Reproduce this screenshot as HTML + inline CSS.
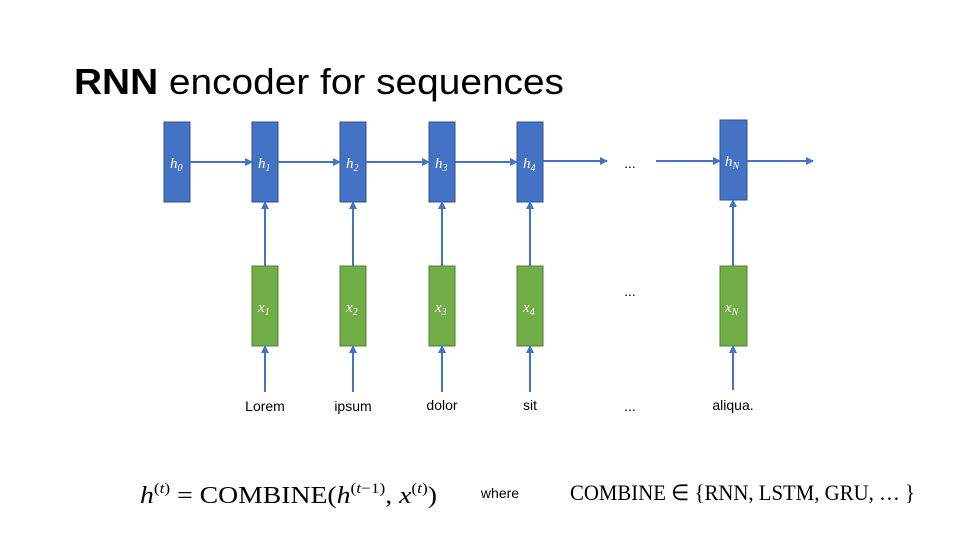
<!DOCTYPE html>
<html><head><meta charset="utf-8"><style>
html,body{margin:0;padding:0;background:#fff;}
svg{display:block}
.t{font-family:"Liberation Serif",serif;font-style:italic;fill:#fff;font-size:15px}
.s{font-size:10px}
.l{font-family:"Liberation Sans",sans-serif;font-size:14px;fill:#000}
</style></head><body>
<svg width="960" height="540" viewBox="0 0 960 540" xmlns="http://www.w3.org/2000/svg">
<defs><marker id="a" markerWidth="8" markerHeight="8" refX="7" refY="4" orient="auto" markerUnits="userSpaceOnUse"><path d="M0,0 L8,4 L0,8 z" fill="#4472c4"/></marker></defs>
<text x="74" y="94" font-family="Liberation Sans,sans-serif" font-size="36" fill="#000" textLength="490" lengthAdjust="spacingAndGlyphs"><tspan font-weight="bold">RNN</tspan> encoder for sequences</text>
<g fill="#4472c4" stroke="#2f528f" stroke-width="1">
<rect x="164" y="122" width="26" height="80"/>
<rect x="252" y="122" width="26" height="80"/>
<rect x="340" y="122" width="26" height="80"/>
<rect x="429" y="122" width="26" height="80"/>
<rect x="517" y="122" width="26" height="80"/>
<rect x="720" y="120" width="27" height="80"/>
</g>
<g fill="#70ad47" stroke="#507e32" stroke-width="1">
<rect x="252" y="266" width="26" height="80"/>
<rect x="340" y="266" width="26" height="80"/>
<rect x="429" y="266" width="26" height="80"/>
<rect x="517" y="266" width="26" height="80"/>
<rect x="720" y="266" width="27" height="80"/>
</g>
<g stroke="#4472c4" stroke-width="2" marker-end="url(#a)">
<line x1="190" y1="162" x2="252" y2="162"/>
<line x1="278" y1="162" x2="340" y2="162"/>
<line x1="366" y1="162" x2="429" y2="162"/>
<line x1="455" y1="162" x2="517" y2="162"/>
<line x1="543" y1="161" x2="607" y2="161"/>
<line x1="656" y1="161" x2="720" y2="161"/>
<line x1="747" y1="161" x2="813" y2="161"/>
<line x1="265" y1="266" x2="265" y2="202"/>
<line x1="353" y1="266" x2="353" y2="202"/>
<line x1="442" y1="266" x2="442" y2="202"/>
<line x1="530" y1="266" x2="530" y2="202"/>
<line x1="733" y1="266" x2="733" y2="200"/>
<line x1="265" y1="392" x2="265" y2="346"/>
<line x1="353" y1="392" x2="353" y2="346"/>
<line x1="442" y1="392" x2="442" y2="346"/>
<line x1="530" y1="392" x2="530" y2="346"/>
<line x1="733" y1="390" x2="733" y2="346"/>
</g>
<text class="t" x="170" y="168">h<tspan class="s" dy="3">0</tspan></text>
<text class="t" x="258" y="168">h<tspan class="s" dy="3">1</tspan></text>
<text class="t" x="346" y="168">h<tspan class="s" dy="3">2</tspan></text>
<text class="t" x="435" y="168">h<tspan class="s" dy="3">3</tspan></text>
<text class="t" x="523" y="168">h<tspan class="s" dy="3">4</tspan></text>
<text class="t" x="725" y="166">h<tspan class="s" dy="3">N</tspan></text>
<text class="t" x="258" y="312">x<tspan class="s" dy="3">1</tspan></text>
<text class="t" x="346" y="312">x<tspan class="s" dy="3">2</tspan></text>
<text class="t" x="435" y="312">x<tspan class="s" dy="3">3</tspan></text>
<text class="t" x="523" y="312">x<tspan class="s" dy="3">4</tspan></text>
<text class="t" x="725" y="312">x<tspan class="s" dy="3">N</tspan></text>
<text class="l" x="630" y="168" text-anchor="middle">...</text>
<text class="l" x="630" y="296" text-anchor="middle">...</text>
<text class="l" x="630" y="411" text-anchor="middle">...</text>
<text class="l" x="265" y="411" text-anchor="middle">Lorem</text>
<text class="l" x="353" y="411" text-anchor="middle">ipsum</text>
<text class="l" x="442" y="410" text-anchor="middle">dolor</text>
<text class="l" x="530" y="410" text-anchor="middle">sit</text>
<text class="l" x="733" y="410" text-anchor="middle">aliqua.</text>
<text class="l" x="500" y="498" text-anchor="middle">where</text>
<text x="140" y="503" font-family="Liberation Serif,serif" font-size="24" fill="#000" textLength="297" lengthAdjust="spacingAndGlyphs"><tspan font-style="italic">h</tspan><tspan font-size="15" dy="-10">(</tspan><tspan font-size="15" font-style="italic">t</tspan><tspan font-size="15">)</tspan><tspan dy="10"> = COMBINE(</tspan><tspan font-style="italic">h</tspan><tspan font-size="15" dy="-10">(</tspan><tspan font-size="15" font-style="italic">t</tspan><tspan font-size="15">−1)</tspan><tspan dy="10">, </tspan><tspan font-style="italic">x</tspan><tspan font-size="15" dy="-10">(</tspan><tspan font-size="15" font-style="italic">t</tspan><tspan font-size="15">)</tspan><tspan dy="10">)</tspan></text>
<text x="570" y="500" font-family="Liberation Serif,serif" font-size="22" fill="#000" textLength="345" lengthAdjust="spacingAndGlyphs">COMBINE ∈ {RNN, LSTM, GRU, … }</text>
</svg>
</body></html>
